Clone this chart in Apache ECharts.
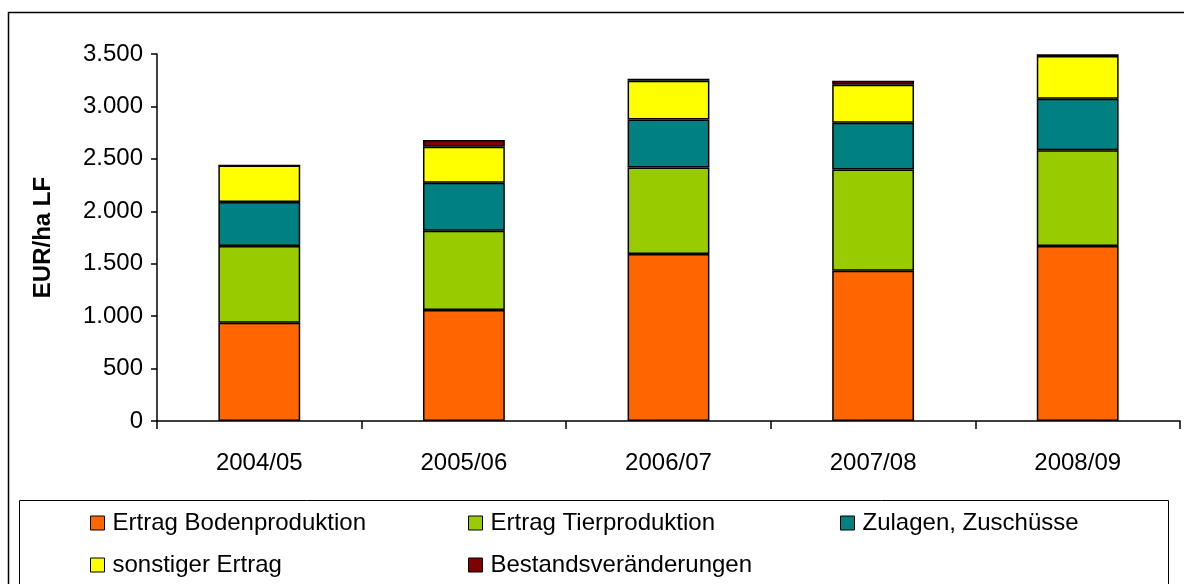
<!DOCTYPE html>
<html>
<head>
<meta charset="utf-8">
<script src="https://cdn.jsdelivr.net/npm/echarts@6/dist/echarts.min.js"></script>
<style>
  html, body { margin: 0; padding: 0; background: #fff; }
  #chart { width: 1184px; height: 584px; }
</style>
</head>
<body>
<div id="chart"></div>
<script>
const years = ["2004/05", "2005/06", "2006/07", "2007/08", "2008/09"];
const bodenproduktion = [937, 1058, 1592, 1433, 1668];
const tierproduktion = [731, 756, 826, 966, 915];
const zulagen = [420, 458, 458, 445, 490];
const sonstiger = [349, 343, 368, 362, 407];
const bestand = [0, 64, 19, 38, 17];

const seriesDefs = [
  { name: "Ertrag Bodenproduktion", values: bodenproduktion, color: "#FF6600" },
  { name: "Ertrag Tierproduktion", values: tierproduktion, color: "#99CC00" },
  { name: "Zulagen, Zuschüsse", values: zulagen, color: "#008080" },
  { name: "sonstiger Ertrag", values: sonstiger, color: "#FFFF00" },
  { name: "Bestandsveränderungen", values: bestand, color: "#800000" }
];

// legend slots, as in the reference's two-row layout
const legendSlots = [
  { left: 90, top: 511 },
  { left: 468, top: 511 },
  { left: 840, top: 511 },
  { left: 90, top: 553 },
  { left: 468, top: 553 }
];

const font = "'Liberation Sans', Arial, sans-serif";
const germanNumber = v => String(v).replace(/\B(?=(\d{3})+(?!\d))/g, ".");

const chart = echarts.init(document.getElementById("chart"));

chart.setOption({
  animation: false,
  textStyle: { fontFamily: font },
  graphic: [
    {
      type: "rect",
      shape: { x: 8.5, y: 12.5, width: 1200, height: 600 },
      style: { fill: "none", stroke: "#000", lineWidth: 1.5 },
      silent: true
    },
    {
      type: "rect",
      shape: { x: 19.5, y: 500.5, width: 1149, height: 120 },
      style: { fill: "none", stroke: "#000", lineWidth: 1 },
      silent: true
    }
  ],
  legend: seriesDefs.map((s, i) => ({
    data: [s.name],
    left: legendSlots[i].left,
    top: legendSlots[i].top,
    icon: "rect",
    itemWidth: 14,
    itemHeight: 14,
    itemStyle: { borderColor: "#000", borderWidth: 1 },
    textStyle: { fontFamily: font, fontSize: 24, color: "#000", padding: [0, 0, 0, 3] },
    padding: 0,
    selectedMode: false
  })),
  grid: {
    left: 157,
    right: 4,
    top: 54,
    bottom: 163
  },
  xAxis: {
    type: "category",
    data: years,
    axisLine: { lineStyle: { color: "#000", width: 1.5 } },
    axisTick: { show: true, inside: false, length: 8, lineStyle: { color: "#000", width: 1.5 } },
    axisLabel: { color: "#000", fontSize: 24, margin: 30, fontFamily: font }
  },
  yAxis: {
    type: "value",
    min: 0,
    max: 3500,
    interval: 500,
    name: "EUR/ha LF",
    nameLocation: "middle",
    nameGap: 102,
    nameTextStyle: { fontSize: 24, fontWeight: "bold", color: "#000", fontFamily: font },
    axisLine: { show: true, lineStyle: { color: "#000", width: 1.5 } },
    axisTick: { show: true, length: 6, lineStyle: { color: "#000", width: 1.5 } },
    splitLine: { show: false },
    axisLabel: { color: "#000", fontSize: 24, margin: 14, fontFamily: font, formatter: germanNumber }
  },
  series: seriesDefs.map(s => ({
    name: s.name,
    type: "bar",
    stack: "total",
    data: s.values,
    barWidth: "40%",
    itemStyle: { color: s.color, borderColor: "#000", borderWidth: 1.5 },
    emphasis: { disabled: true }
  }))
});
</script>
</body>
</html>
